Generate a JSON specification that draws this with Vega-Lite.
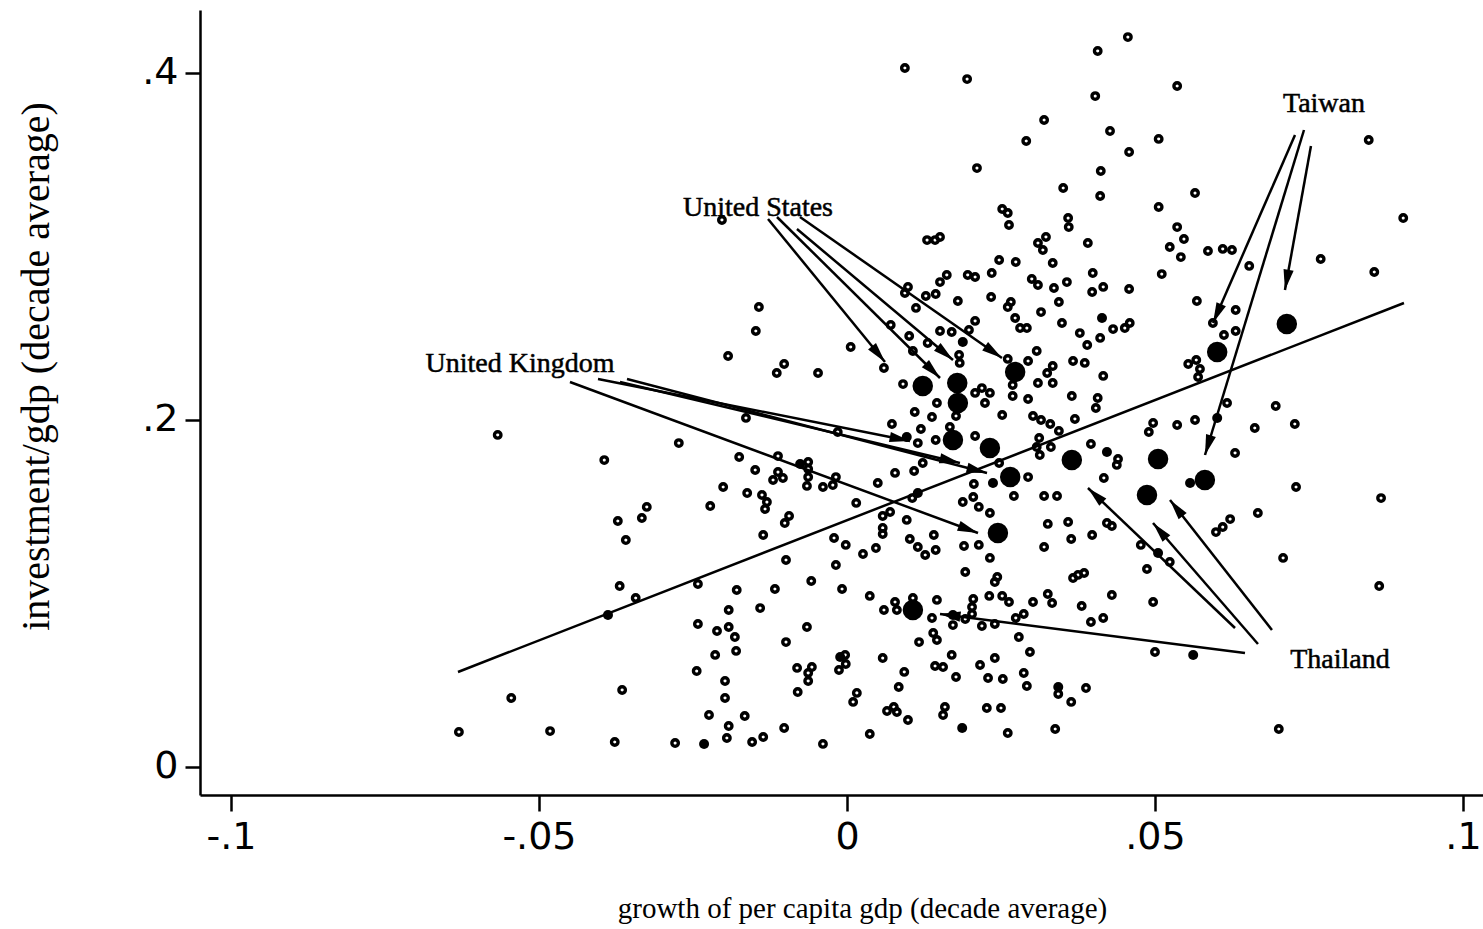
{
  "$schema": "https://vega.github.io/schema/vega-lite/v6.json",
  "autosize": "none",
  "padding": {"left": 200, "top": 10, "right": 0, "bottom": 134},
  "width": 1283,
  "height": 785,
  "background": "white",
  "config": {
    "view": {"stroke": null},
    "axis": {
      "domainColor": "black", "domainWidth": 2.5, "tickColor": "black", "tickWidth": 2.5,
      "labelColor": "black", "titleColor": "black", "grid": false,
      "labelFont": "DejaVu Sans", "labelFontSize": 38, "titleFont": "Liberation Serif", "titleFontWeight": "normal"
    }
  },
  "datasets": {
    "open": [
      {"x":0.0456,"y":0.4207},{"x":0.0407,"y":0.4127},{"x":0.0094,"y":0.4029},{"x":0.0195,"y":0.3965},{"x":0.0536,"y":0.3925},{"x":0.0403,"y":0.3867},{"x":0.0320,"y":0.3729},{"x":0.0291,"y":0.3608},{"x":0.0427,"y":0.3666},{"x":0.0506,"y":0.3620},{"x":0.0458,"y":0.3545},{"x":0.0847,"y":0.3614},{"x":0.0211,"y":0.3452},{"x":0.0412,"y":0.3435},{"x":0.0351,"y":0.3337},{"x":0.0411,"y":0.3291},{"x":0.0565,"y":0.3308},{"x":0.0506,"y":0.3228},{"x":0.0252,"y":0.3216},{"x":0.0261,"y":0.3193},{"x":0.0263,"y":0.3124},{"x":0.0359,"y":0.3164},{"x":0.0360,"y":0.3112},{"x":0.0536,"y":0.3112},{"x":0.0903,"y":0.3164},{"x":-0.0203,"y":0.3153},{"x":0.0151,"y":0.3055},{"x":0.0130,"y":0.3037},{"x":0.0143,"y":0.3037},{"x":0.0323,"y":0.3055},{"x":0.0310,"y":0.3020},{"x":0.0318,"y":0.2980},{"x":0.0391,"y":0.3020},{"x":0.0547,"y":0.3043},{"x":0.0524,"y":0.2997},{"x":0.0586,"y":0.2974},{"x":0.0610,"y":0.2986},{"x":0.0625,"y":0.2980},{"x":0.0542,"y":0.2939},{"x":0.0247,"y":0.2922},{"x":0.0274,"y":0.2911},{"x":0.0334,"y":0.2905},{"x":0.0769,"y":0.2928},{"x":0.0653,"y":0.2888},{"x":0.0856,"y":0.2853},
      {"x":0.0162,"y":0.2836},{"x":0.0151,"y":0.2795},{"x":0.0196,"y":0.2836},{"x":0.0208,"y":0.2824},{"x":0.0235,"y":0.2847},{"x":0.0300,"y":0.2813},{"x":0.0310,"y":0.2778},{"x":0.0336,"y":0.2761},{"x":0.0357,"y":0.2795},{"x":0.0399,"y":0.2847},{"x":0.0398,"y":0.2738},{"x":0.0416,"y":0.2767},{"x":0.0458,"y":0.2755},{"x":0.0511,"y":0.2841},{"x":0.0180,"y":0.2686},{"x":0.0234,"y":0.2709},{"x":0.0266,"y":0.2680},{"x":0.0261,"y":0.2651},{"x":0.0315,"y":0.2622},{"x":0.0344,"y":0.2680},{"x":0.0273,"y":0.2588},{"x":0.0281,"y":0.2530},{"x":0.0292,"y":0.2530},{"x":0.0349,"y":0.2559},{"x":0.0432,"y":0.2524},{"x":0.0451,"y":0.2530},{"x":0.0459,"y":0.2559},{"x":0.0378,"y":0.2501},{"x":0.0390,"y":0.2432},{"x":0.0411,"y":0.2473},{"x":0.0208,"y":0.2571},{"x":0.0198,"y":0.2519},{"x":0.0170,"y":0.2507},{"x":0.0151,"y":0.2513},{"x":0.0308,"y":0.2398},{"x":0.0261,"y":0.2352},{"x":0.0294,"y":0.2340},{"x":0.0367,"y":0.2340},{"x":0.0386,"y":0.2329},{"x":0.0334,"y":0.2311},{"x":0.0325,"y":0.2271},{"x":0.0310,"y":0.2213},{"x":0.0334,"y":0.2213},{"x":0.0416,"y":0.2254},{"x":0.0182,"y":0.2375},{"x":0.0183,"y":0.2329},{"x":0.0269,"y":0.2202},{"x":0.0554,"y":0.2323},{"x":0.0219,"y":0.2184},{"x":0.0208,"y":0.2156},{"x":0.0232,"y":0.2156},{"x":0.0224,"y":0.2098},{"x":0.0269,"y":0.2138},{"x":0.0294,"y":0.2121},{"x":0.0365,"y":0.2138},{"x":0.0407,"y":0.2127},{"x":0.0404,"y":0.2069},{"x":0.0177,"y":0.2023},{"x":0.0252,"y":0.2029},{"x":0.0302,"y":0.2023},{"x":0.0315,"y":0.2000},{"x":0.0330,"y":0.1977},{"x":0.0344,"y":0.1937},{"x":0.0370,"y":0.2006},{"x":0.0497,"y":0.1983},{"x":0.0490,"y":0.1931},{"x":0.0536,"y":0.1971},{"x":0.0167,"y":0.1960},{"x":0.0208,"y":0.1908},{"x":0.0312,"y":0.1896},{"x":0.0308,"y":0.1844},{"x":0.0313,"y":0.1798},{"x":0.0331,"y":0.1844},{"x":0.0396,"y":0.1862},{"x":0.0440,"y":0.1775},{"x":0.0438,"y":0.1741},{"x":0.0247,"y":0.1752},{"x":0.0294,"y":0.1671},{"x":0.0417,"y":0.1666},{"x":0.0206,"y":0.1631},{"x":0.0271,"y":0.1562},{"x":0.0320,"y":0.1562},{"x":0.0341,"y":0.1562},{"x":0.0205,"y":0.1556},{"x":0.0188,"y":0.1527},{"x":0.0214,"y":0.1499},{"x":0.0232,"y":0.1464},
      {"x":0.0099,"y":0.2767},{"x":0.0094,"y":0.2732},{"x":0.0128,"y":0.2715},{"x":0.0144,"y":0.2726},{"x":0.0112,"y":0.2646},{"x":-0.0143,"y":0.2651},{"x":-0.0148,"y":0.2513},{"x":-0.0193,"y":0.2369},{"x":-0.0102,"y":0.2323},{"x":-0.0114,"y":0.2271},{"x":-0.0047,"y":0.2271},{"x":0.0006,"y":0.2421},{"x":0.0071,"y":0.2548},{"x":0.0101,"y":0.2484},{"x":0.0131,"y":0.2444},{"x":0.0107,"y":0.2398},{"x":0.0060,"y":0.2300},{"x":0.0091,"y":0.2207},{"x":0.0146,"y":0.2098},{"x":0.0110,"y":0.2046},{"x":0.0138,"y":0.2017},{"x":0.0073,"y":0.1977},{"x":0.0120,"y":0.1948},{"x":0.0144,"y":0.1885},{"x":0.0115,"y":0.1867},{"x":-0.0164,"y":0.2012},{"x":-0.0015,"y":0.1931},{"x":-0.0175,"y":0.1787},{"x":-0.0112,"y":0.1792},{"x":-0.0149,"y":0.1712},{"x":-0.0063,"y":0.1758},{"x":-0.0112,"y":0.1700},{"x":-0.0120,"y":0.1654},{"x":-0.0104,"y":0.1666},{"x":-0.0063,"y":0.1718},{"x":-0.0063,"y":0.1671},{"x":-0.0065,"y":0.1620},{"x":-0.0018,"y":0.1671},{"x":-0.0023,"y":0.1625},{"x":-0.0039,"y":0.1614},{"x":-0.0201,"y":0.1614},{"x":-0.0162,"y":0.1579},{"x":-0.0138,"y":0.1568},{"x":-0.0130,"y":0.1527},{"x":-0.0133,"y":0.1487},{"x":-0.0222,"y":0.1504},{"x":-0.0094,"y":0.1447},{"x":0.0015,"y":0.1522},{"x":0.0050,"y":0.1637},{"x":0.0078,"y":0.1695},{"x":0.0109,"y":0.1706},{"x":0.0123,"y":0.1752},{"x":0.0106,"y":0.1550},{"x":0.0070,"y":0.1470},{"x":0.0058,"y":0.1447},
      {"x":-0.0101,"y":0.1406},{"x":-0.0136,"y":0.1337},{"x":-0.0021,"y":0.1320},{"x":-0.0002,"y":0.1280},{"x":0.0026,"y":0.1228},{"x":0.0047,"y":0.1262},{"x":0.0058,"y":0.1378},{"x":0.0058,"y":0.1343},{"x":0.0102,"y":0.1314},{"x":0.0115,"y":0.1268},{"x":0.0127,"y":0.1222},{"x":0.0144,"y":0.1251},{"x":0.0141,"y":0.1337},{"x":0.0097,"y":0.1424},{"x":-0.0099,"y":0.1193},{"x":-0.0018,"y":0.1164},{"x":-0.0242,"y":0.1055},{"x":-0.0179,"y":0.1020},{"x":-0.0117,"y":0.1026},{"x":-0.0058,"y":0.1072},{"x":-0.0008,"y":0.1026},{"x":0.0037,"y":0.0986},{"x":0.0078,"y":0.0951},{"x":0.0060,"y":0.0905},{"x":0.0081,"y":0.0905},{"x":0.0107,"y":0.0974},{"x":0.0138,"y":0.0859},{"x":0.0146,"y":0.0963},{"x":-0.0192,"y":0.0905},{"x":-0.0141,"y":0.0916},{"x":-0.0242,"y":0.0824},{"x":-0.0211,"y":0.0784},{"x":-0.0192,"y":0.0807},{"x":-0.0182,"y":0.0749},{"x":-0.0180,"y":0.0669},{"x":-0.0214,"y":0.0646},{"x":-0.0099,"y":0.0720},{"x":-0.0065,"y":0.0807},{"x":0.0117,"y":0.0720},{"x":0.0140,"y":0.0772},{"x":0.0146,"y":0.0732},{"x":-0.0244,"y":0.0553},{"x":-0.0198,"y":0.0496},{"x":-0.0198,"y":0.0398},{"x":-0.0081,"y":0.0571},{"x":-0.0063,"y":0.0542},{"x":-0.0057,"y":0.0576},{"x":-0.0063,"y":0.0496},{"x":-0.0003,"y":0.0646},{"x":-0.0002,"y":0.0594},{"x":-0.0013,"y":0.0559},{"x":0.0058,"y":0.0628},{"x":0.0093,"y":0.0548},{"x":0.0084,"y":0.0461},{"x":0.0143,"y":0.0582},{"x":-0.0080,"y":0.0432},{"x":0.0016,"y":0.0427},{"x":0.0010,"y":0.0375},{"x":0.0065,"y":0.0323},{"x":0.0076,"y":0.0346},{"x":0.0081,"y":0.0317},{"x":0.0099,"y":0.0271},{"x":-0.0224,"y":0.0300},{"x":-0.0166,"y":0.0294},{"x":-0.0192,"y":0.0236},{"x":-0.0195,"y":0.0167},{"x":-0.0154,"y":0.0144},{"x":-0.0136,"y":0.0173},{"x":-0.0102,"y":0.0225},{"x":-0.0039,"y":0.0133},{"x":0.0037,"y":0.0190},
      {"x":0.0326,"y":0.1401},{"x":0.0359,"y":0.1412},{"x":0.0422,"y":0.1406},{"x":0.0430,"y":0.1389},{"x":0.0190,"y":0.1274},{"x":0.0214,"y":0.1280},{"x":0.0232,"y":0.1205},{"x":0.0320,"y":0.1268},{"x":0.0364,"y":0.1314},{"x":0.0398,"y":0.1337},{"x":0.0477,"y":0.1280},{"x":0.0524,"y":0.1182},{"x":0.0487,"y":0.1141},{"x":0.0192,"y":0.1124},{"x":0.0244,"y":0.1095},{"x":0.0240,"y":0.1066},{"x":0.0367,"y":0.1089},{"x":0.0375,"y":0.1107},{"x":0.0385,"y":0.1118},{"x":0.0205,"y":0.0968},{"x":0.0203,"y":0.0922},{"x":0.0203,"y":0.0882},{"x":0.0231,"y":0.0986},{"x":0.0252,"y":0.0986},{"x":0.0263,"y":0.0951},{"x":0.0302,"y":0.0951},{"x":0.0326,"y":0.0997},{"x":0.0333,"y":0.0945},{"x":0.0381,"y":0.0928},{"x":0.0430,"y":0.0991},{"x":0.0497,"y":0.0951},{"x":0.0192,"y":0.0853},{"x":0.0172,"y":0.0818},{"x":0.0219,"y":0.0813},{"x":0.0240,"y":0.0824},{"x":0.0274,"y":0.0859},{"x":0.0287,"y":0.0882},{"x":0.0396,"y":0.0836},{"x":0.0416,"y":0.0859},{"x":0.0279,"y":0.0749},{"x":0.0297,"y":0.0663},{"x":0.0170,"y":0.0646},{"x":0.0156,"y":0.0576},{"x":0.0216,"y":0.0588},{"x":0.0240,"y":0.0628},{"x":0.0177,"y":0.0519},{"x":0.0229,"y":0.0513},{"x":0.0253,"y":0.0507},{"x":0.0287,"y":0.0542},{"x":0.0292,"y":0.0467},{"x":0.0343,"y":0.0421},{"x":0.0364,"y":0.0375},{"x":0.0388,"y":0.0455},{"x":0.0500,"y":0.0663},{"x":0.0159,"y":0.0346},{"x":0.0156,"y":0.0300},{"x":0.0227,"y":0.0340},{"x":0.0250,"y":0.0340},{"x":0.0261,"y":0.0196},{"x":0.0338,"y":0.0219},
      {"x":0.0568,"y":0.2686},{"x":0.0631,"y":0.2634},{"x":0.0594,"y":0.2559},{"x":0.0612,"y":0.2490},{"x":0.0631,"y":0.2513},{"x":0.0567,"y":0.2346},{"x":0.0573,"y":0.2294},{"x":0.0570,"y":0.2248},{"x":0.0617,"y":0.2098},{"x":0.0696,"y":0.2081},{"x":0.0565,"y":0.2000},{"x":0.0662,"y":0.1954},{"x":0.0727,"y":0.1977},{"x":0.0630,"y":0.1810},{"x":0.0729,"y":0.1614},{"x":0.0867,"y":0.1550},{"x":0.0667,"y":0.1464},{"x":0.0622,"y":0.1429},{"x":0.0599,"y":0.1354},{"x":0.0610,"y":0.1383},{"x":0.0708,"y":0.1205},{"x":0.0864,"y":0.1043},{"x":0.0701,"y":0.0219},
      {"x":-0.0567,"y":0.1914},{"x":-0.0394,"y":0.1769},{"x":-0.0273,"y":0.1867},{"x":-0.0325,"y":0.1499},{"x":-0.0333,"y":0.1435},{"x":-0.0372,"y":0.1418},{"x":-0.0359,"y":0.1308},{"x":-0.0369,"y":0.1043},{"x":-0.0343,"y":0.0974},{"x":-0.0365,"y":0.0444},{"x":-0.0545,"y":0.0398},{"x":-0.0630,"y":0.0202},{"x":-0.0482,"y":0.0207},{"x":-0.0377,"y":0.0144},{"x":-0.0279,"y":0.0138}
    ],
    "solid": [
      {"x":0.0188,"y":0.2450},{"x":0.0414,"y":0.2588},{"x":0.0422,"y":0.1816},{"x":0.0237,"y":0.1637},{"x":0.0172,"y":0.0876},{"x":0.0505,"y":0.1233},{"x":0.0562,"y":0.0646},{"x":0.0187,"y":0.0225},{"x":-0.0388,"y":0.0876},{"x":-0.0011,"y":0.0634},{"x":-0.0076,"y":0.1746},{"x":0.0097,"y":0.1902},{"x":0.0115,"y":0.1579},{"x":0.0601,"y":0.2012},{"x":0.0343,"y":0.0461},{"x":0.0557,"y":0.1637},{"x":-0.0232,"y":0.0133}
    ],
    "big": [
      {"x":0.0123,"y":0.2196},{"x":0.0179,"y":0.2213},{"x":0.0273,"y":0.2277},{"x":0.0180,"y":0.2098},{"x":0.0172,"y":0.1885},{"x":0.0232,"y":0.1839},{"x":0.0265,"y":0.1671},{"x":0.0245,"y":0.1349},{"x":0.0107,"y":0.0905},{"x":0.0365,"y":0.1769},{"x":0.0505,"y":0.1775},{"x":0.0487,"y":0.1568},{"x":0.0601,"y":0.2392},{"x":0.0714,"y":0.2553},{"x":0.0581,"y":0.1654}
    ],
    "arrows": [
      {"country":"United States","x":-0.01282,"y":0.31585,"x2":0.00617,"y2":0.23343},
      {"country":"United States","x":-0.01136,"y":0.3170,"x2":0.0151,"y2":0.22421},
      {"country":"United States","x":-0.00812,"y":0.31009,"x2":0.01721,"y2":0.23458},
      {"country":"United States","x":-0.00763,"y":0.3170,"x2":0.02516,"y2":0.23573},
      {"country":"United Kingdom","x":-0.04497,"y":0.2219,"x2":0.02127,"y2":0.13487},
      {"country":"United Kingdom","x":-0.04042,"y":0.22363,"x2":0.01023,"y2":0.1879},
      {"country":"United Kingdom","x":-0.03685,"y":0.2219,"x2":0.01834,"y2":0.17522},
      {"country":"United Kingdom","x":-0.03571,"y":0.22363,"x2":0.02273,"y2":0.16945},
      {"country":"Taiwan","x":0.07273,"y":0.36427,"x2":0.05942,"y2":0.25591},
      {"country":"Taiwan","x":0.07419,"y":0.36715,"x2":0.05812,"y2":0.17983},
      {"country":"Taiwan","x":0.07532,"y":0.35793,"x2":0.0711,"y2":0.27493},
      {"country":"Thailand","x":0.06299,"y":0.08012,"x2":0.03912,"y2":0.16081},
      {"country":"Thailand","x":0.06672,"y":0.07089,"x2":0.04968,"y2":0.14063},
      {"country":"Thailand","x":0.06899,"y":0.07896,"x2":0.05244,"y2":0.15389},
      {"country":"Thailand","x":0.06461,"y":0.06571,"x2":0.0151,"y2":0.08818}
    ],
    "labels": [
      {"label":"United States","x":-0.01445,"y":0.31758},
      {"label":"United Kingdom","x":-0.05308,"y":0.22767},
      {"label":"Taiwan","x":0.07744,"y":0.37752},
      {"label":"Thailand","x":0.08003,"y":0.05706}
    ],
    "fit": [
      {"x":-0.06315,"y":0.05476,"x2":0.09042,"y2":0.26744}
    ]
  },
  "layer": [
    {
      "data": {"name": "open"},
      "mark": {"type": "point", "filled": false, "stroke": "black", "strokeWidth": 3.4, "size": 42, "opacity": 1},
      "encoding": {
        "x": {"field": "x", "type": "quantitative", "scale": {"domain": [-0.10503, 0.10325], "nice": false, "zero": false},
          "axis": {"values": [-0.1, -0.05, 0, 0.05, 0.1], "tickSize": 16, "labelPadding": 37, "labelBaseline": "alphabetic", "labelFlush": false, "labelOverlap": false,
            "labelExpr": "replace(replace(format(datum.value, '.2~f'), '0.', '.'), '\u2212', '-')",
            "title": "growth of per capita gdp (decade average)", "titleFontSize": 29, "titleX": 662, "titleY": 122, "titleBaseline": "alphabetic", "titleAlign": "center"}},
        "y": {"field": "y", "type": "quantitative", "scale": {"domain": [-0.01614, 0.43631], "nice": false, "zero": false},
          "axis": {"values": [0, 0.2, 0.4], "tickSize": 15, "labelPadding": 7, "labelBaseline": "middle", "labelFlush": false, "labelOverlap": false,
            "labelExpr": "replace(format(datum.value, '.1~f'), '0.', '.')",
            "title": "investment/gdp (decade average)", "titleFontSize": 40, "titleAngle": 270, "titleX": -152, "titleY": 356, "titleBaseline": "alphabetic", "titleAlign": "center"}}
      }
    },
    {
      "data": {"name": "solid"},
      "mark": {"type": "circle", "color": "black", "size": 100, "opacity": 1},
      "encoding": {"x": {"field": "x", "type": "quantitative"}, "y": {"field": "y", "type": "quantitative"}}
    },
    {
      "data": {"name": "big"},
      "mark": {"type": "circle", "color": "black", "size": 420, "opacity": 1},
      "encoding": {"x": {"field": "x", "type": "quantitative"}, "y": {"field": "y", "type": "quantitative"}}
    },
    {
      "data": {"name": "fit"},
      "mark": {"type": "rule", "color": "black", "strokeWidth": 2.5},
      "encoding": {"x": {"field": "x", "type": "quantitative"}, "y": {"field": "y", "type": "quantitative"}, "x2": {"field": "x2"}, "y2": {"field": "y2"}}
    },
    {
      "data": {"name": "arrows"},
      "mark": {"type": "rule", "color": "black", "strokeWidth": 2.5},
      "encoding": {"x": {"field": "x", "type": "quantitative"}, "y": {"field": "y", "type": "quantitative"}, "x2": {"field": "x2"}, "y2": {"field": "y2"}}
    },
    {
      "data": {"name": "arrows"},
      "transform": [{"calculate": "atan2((datum.x2 - datum.x) * 6160, (datum.y2 - datum.y) * 1735) * 180 / PI", "as": "ang"}],
      "mark": {"type": "point", "shape": "M0,0L-0.5,2L0.5,2Z", "filled": true, "color": "black", "size": 420, "opacity": 1, "strokeWidth": 0},
      "encoding": {"x": {"field": "x2", "type": "quantitative"}, "y": {"field": "y2", "type": "quantitative"}, "angle": {"field": "ang", "type": "quantitative", "scale": null}}
    },
    {
      "data": {"name": "labels"},
      "mark": {"type": "text", "font": "Liberation Serif", "fontSize": 28, "align": "center", "baseline": "alphabetic", "color": "black", "stroke": "black", "strokeWidth": 0.5},
      "encoding": {"x": {"field": "x", "type": "quantitative"}, "y": {"field": "y", "type": "quantitative"}, "text": {"field": "label"}}
    }
  ]
}
